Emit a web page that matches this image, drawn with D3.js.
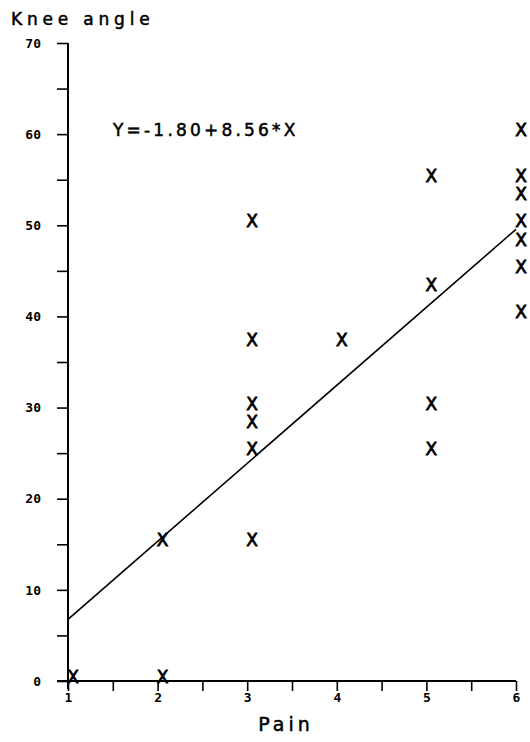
<!DOCTYPE html>
<html>
<head>
<meta charset="utf-8">
<script src="https://cdn.jsdelivr.net/npm/d3@7"></script>
<style>
  html, body { margin: 0; padding: 0; background: #fff; }
  svg { display: block; }
  .axis path, .axis line { stroke: #000; }
  .axis text { font-family: "DejaVu Sans Mono", monospace; font-weight: bold; font-size: 13px; fill: #000; }
</style>
</head>
<body>
<svg id="chart" width="530" height="742"></svg>
<script>
'use strict';

// pain score (x) and knee angle (y) for each patient
const painScores = [1, 2, 2, 3, 3, 3, 3, 3, 3, 4, 5, 5, 5, 5, 6, 6, 6, 6, 6, 6, 6];
const kneeAngles = [0, 15, 0, 50, 37, 30, 28, 25, 15, 37, 55, 43, 30, 25, 60, 55, 53, 50, 48, 45, 40];

// fitted regression line
const fitIntercept = -1.80;
const fitSlope = 8.56;
const fitLabel = 'Y=-1.80+8.56*X';

const xTicks = [1, 1.5, 2, 2.5, 3, 3.5, 4, 4.5, 5, 5.5, 6];
const yTicks = [0, 5, 10, 15, 20, 25, 30, 35, 40, 45, 50, 55, 60, 65, 70];

const svg = d3.select('#chart');

const x = d3.scaleLinear().domain([1, 6]).range([68, 516]);
const y = d3.scaleLinear().domain([0, 70]).range([681, 43]);

// y axis, labels only on the tens
const yAxis = d3.axisLeft(y)
  .tickValues(yTicks)
  .tickSize(11)
  .tickPadding(16)
  .tickFormat(d => d % 10 === 0 ? d : '');

svg.append('g')
  .attr('class', 'axis')
  .attr('transform', `translate(${x(1)},0)`)
  .call(yAxis)
  .call(g => g.select('.domain').attr('d', `M0,${y(70)}V${y(0) + 8}`).attr('stroke-width', 2))
  .call(g => g.selectAll('line').attr('stroke-width', 1.6));

// x axis, labels only on whole numbers
const xAxis = d3.axisBottom(x)
  .tickValues(xTicks)
  .tickSize(10)
  .tickPadding(2)
  .tickFormat(d => Number.isInteger(d) ? d : '');

svg.append('g')
  .attr('class', 'axis')
  .attr('transform', `translate(0,${y(0)})`)
  .call(xAxis)
  .call(g => g.select('.domain').attr('d', `M${x(1) - 11},0H${x(6)}`).attr('stroke-width', 2))
  .call(g => g.selectAll('line').attr('stroke-width', 1.6));

// regression line
const fitLine = d3.line()
  .x(d => x(d))
  .y(d => y(fitIntercept + fitSlope * d));

svg.append('path')
  .datum([1, 6])
  .attr('d', fitLine)
  .attr('fill', 'none')
  .attr('stroke', '#000')
  .attr('stroke-width', 1.6);

// points drawn as plotter "X" symbols
svg.append('g')
  .selectAll('text')
  .data(painScores.map((p, i) => ({pain: p, angle: kneeAngles[i]})))
  .join('text')
  .attr('x', d => x(d.pain) + 5)
  .attr('y', d => y(d.angle) - 4)
  .attr('text-anchor', 'middle')
  .attr('dominant-baseline', 'central')
  .attr('font-family', 'DejaVu Sans, sans-serif')
  .attr('font-size', 17)
  .attr('stroke', '#000')
  .attr('stroke-width', 0.8)
  .text('X');

// titles
const labelText = (tx, ty, size, spacing, str) => svg.append('text')
  .attr('x', tx)
  .attr('y', ty)
  .attr('font-family', 'DejaVu Sans, sans-serif')
  .attr('font-size', size)
  .attr('letter-spacing', spacing)
  .attr('stroke', '#000')
  .attr('stroke-width', 0.5)
  .text(str);

labelText(11, 25, 17, 4.8, 'Knee angle');
labelText(113, 136, 17, 3.2, fitLabel);
labelText(286, 731, 19, 4, 'Pain').attr('text-anchor', 'middle');
</script>
</body>
</html>
